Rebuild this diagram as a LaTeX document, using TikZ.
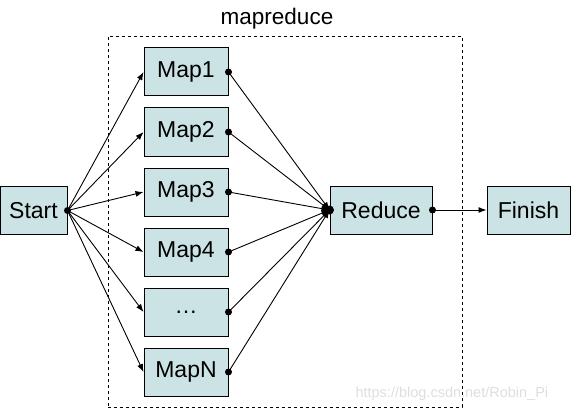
\documentclass[tikz,border=0pt]{standalone}
\usepackage{fontspec}
\setmainfont{Liberation Sans}
\usetikzlibrary{arrows.meta}
\definecolor{boxfill}{RGB}{203,227,229}
\definecolor{wm}{RGB}{222,222,222}
\tikzset{
  x=1pt, y=-1pt,
  box/.style={draw=black, line width=1pt, fill=boxfill, minimum width=84pt, minimum height=48pt, inner sep=0pt, font=\fontsize{23}{26}\selectfont},
  conn/.style={line width=0.9pt, -{Latex[length=8pt,width=6pt]}},
  dotend/.style={fill=black, circle, inner sep=0pt, minimum size=7pt},
}
\begin{document}
\begin{tikzpicture}
\useasboundingbox (0,0) rectangle (572,409);
\node[draw, dashed, line width=0.8pt, minimum width=354pt, minimum height=371pt, inner sep=0pt] (frame) at (285,221.5) {};
\node[font=\fontsize{22.5}{24}\selectfont, anchor=base] (title) at (277,25) {mapreduce};
\node[box, minimum width=67pt] (start) at (33.5,210.5) {Start};
\node[box] (m1) at (186,72) {Map1};
\node[box] (m2) at (186,132) {Map2};
\node[box] (m3) at (186,192) {Map3};
\node[box] (m4) at (186,252) {Map4};
\node[box] (m5) at (186,312) {\raisebox{-2pt}{\ldots}};
\node[box] (mn) at (186,372) {MapN};
\node[box, minimum width=102pt] (reduce) at (381,210) {Reduce};
\node[box, minimum width=83pt] (finish) at (528.5,210) {Finish};
\node[text=wm, font=\fontsize{14.5}{16}\selectfont, anchor=base west] (wmk) at (352,397) {https://blog.csdn.net/Robin\_Pi};
\foreach \m in {m1,m2,m3,m4,m5,mn}{
  \draw[conn] (start.east) -- (\m.west);
  \draw[conn] (\m.east) -- (reduce.west);
  \node[dotend] at (\m.east) {};
}
\node[dotend] (sdot) at (start.east) {};
\node[dotend, minimum size=9pt] (rdot) at (reduce.west) {};
\draw[conn] (reduce.east) -- (finish.west);
\node[dotend] (redot) at (reduce.east) {};
\end{tikzpicture}
\end{document}
